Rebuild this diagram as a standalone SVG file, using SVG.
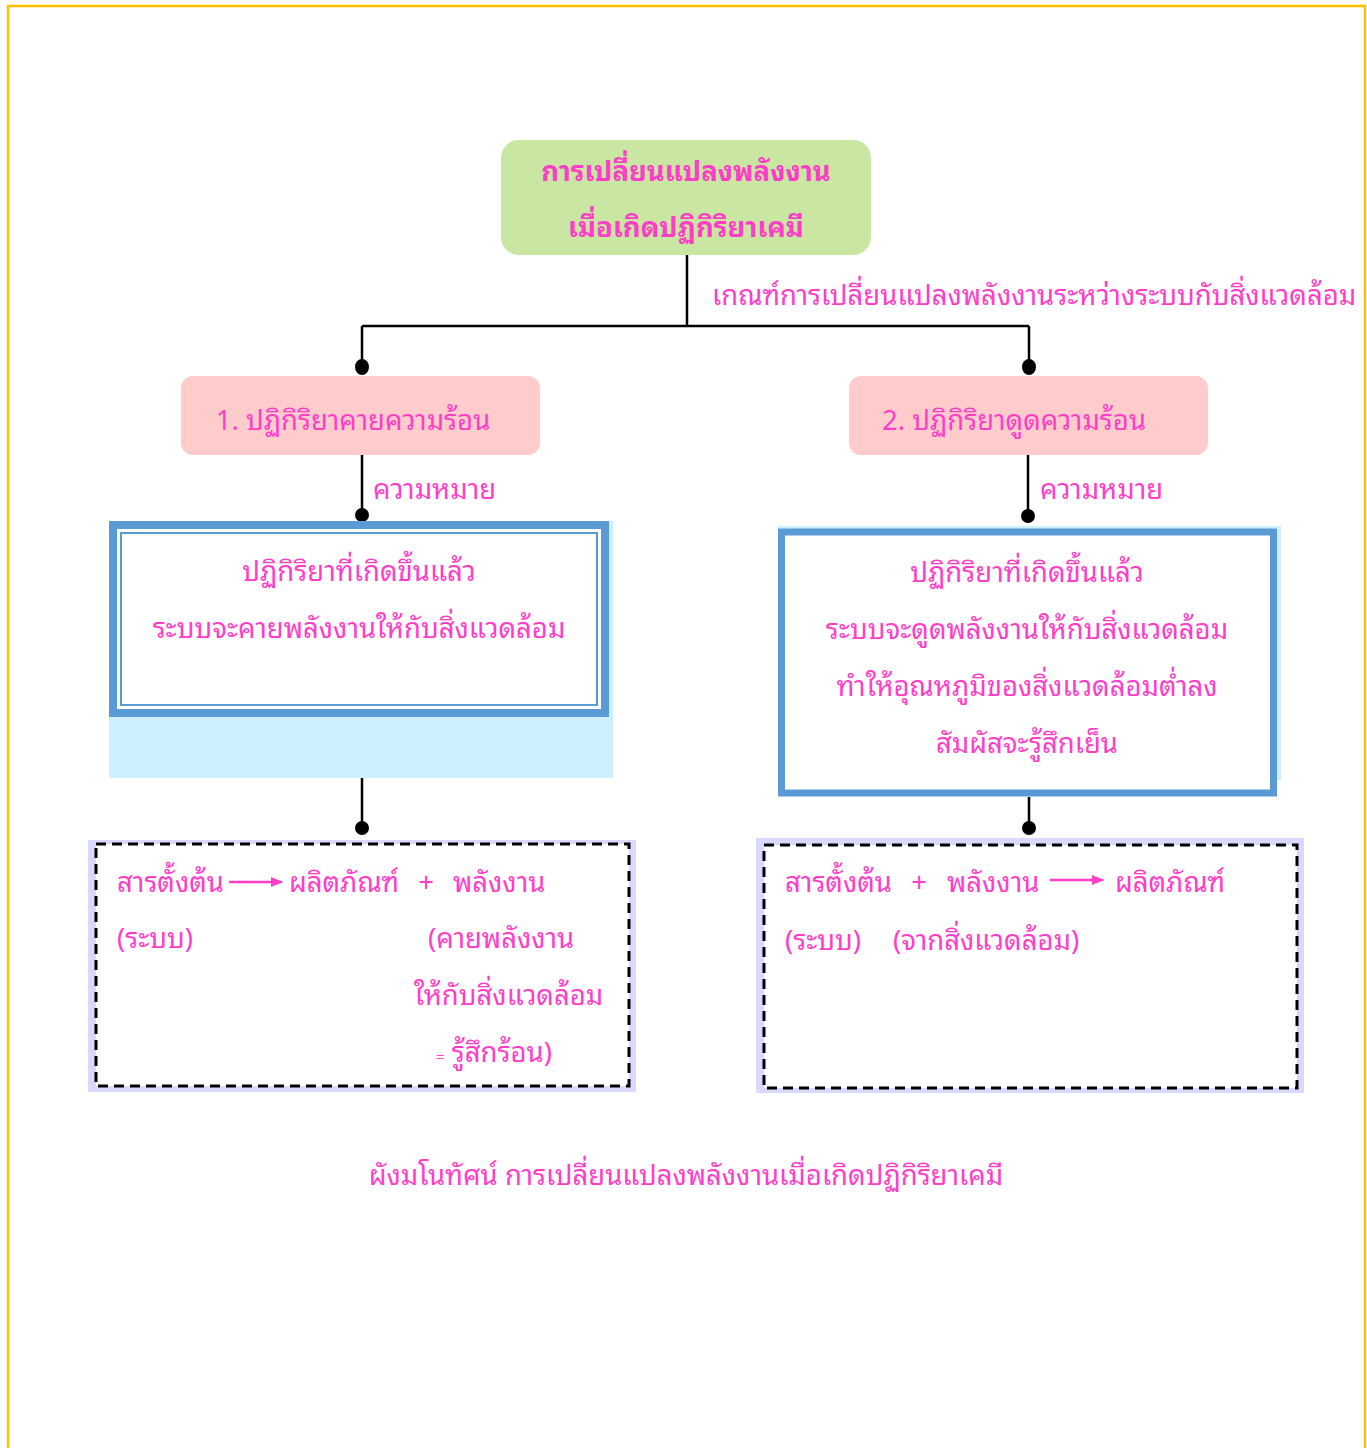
<svg xmlns="http://www.w3.org/2000/svg" width="1367" height="1448" viewBox="0 0 1367 1448">
  <defs>
    <style>
      .t { font-family: "Noto Sans Thai Looped", "Noto Sans Thai", "Noto Sans", "DejaVu Sans", sans-serif; fill: #FF3DC8; font-size: 27.5px; }
      .c { text-anchor: middle; }
      .b { font-weight: bold; font-size: 27.5px; }
      .wire { stroke: #000; stroke-width: 2.5; fill: none; }
      .dot { fill: #000; }
      .dash { fill: #fff; stroke: #000; stroke-width: 3; stroke-dasharray: 10 6; }
      .lav { fill: #D9D9FF; }
    </style>
    <marker id="ah" viewBox="0 0 10 10" refX="9" refY="5" markerWidth="5" markerHeight="5" orient="auto" markerUnits="strokeWidth">
      <path d="M0,1 L10,5 L0,9 z" fill="#FF3DC8"/>
    </marker>
  </defs>

  <!-- page frame -->
  <rect x="8" y="6" width="1357" height="1460" fill="#fff" stroke="#FFC000" stroke-width="2.5"/>

  <!-- connectors -->
  <g id="connectors">
    <path class="wire" d="M687,255 V326 M362,326 H1029 M362,326 V367 M1029,326 V367"/>
    <path class="wire" d="M362,455 V515 M1028,455 V516"/>
    <path class="wire" d="M362,778 V828 M1029,797 V828"/>
    <ellipse class="dot" cx="362" cy="367" rx="7" ry="8"/>
    <ellipse class="dot" cx="1029" cy="367" rx="7" ry="8"/>
    <ellipse class="dot" cx="362" cy="515" rx="7" ry="7"/>
    <ellipse class="dot" cx="1028" cy="516" rx="7" ry="7"/>
    <ellipse class="dot" cx="362" cy="828" rx="7" ry="7"/>
    <ellipse class="dot" cx="1029" cy="828" rx="7" ry="7"/>
    <text class="t" x="712" y="305">เกณฑ์การเปลี่ยนแปลงพลังงานระหว่างระบบกับสิ่งแวดล้อม</text>
    <text class="t" x="373" y="499">ความหมาย</text>
    <text class="t" x="1040" y="499">ความหมาย</text>
  </g>

  <!-- root -->
  <g id="root">
    <rect x="501" y="140" width="370" height="115" rx="18" fill="#C9E6A2"/>
    <text class="t c b" x="686" y="181">การเปลี่ยนแปลงพลังงาน</text>
    <text class="t c b" x="686" y="237">เมื่อเกิดปฏิกิริยาเคมี</text>
  </g>

  <!-- exothermic branch -->
  <g id="exo">
    <rect x="181" y="376" width="359" height="79" rx="12" fill="#FFCCCC"/>
    <text class="t c" x="353" y="430">1. ปฏิกิริยาคายความร้อน</text>
  </g>

  <g id="exo-meaning">
    <rect x="109" y="521" width="504" height="257" fill="#CCF0FF"/>
    <rect x="113" y="525" width="492" height="188" fill="#fff" stroke="#5B9BD5" stroke-width="8"/>
    <rect x="121" y="533" width="476" height="172" fill="none" stroke="#5B9BD5" stroke-width="2"/>
    <text class="t c" x="359" y="581">ปฏิกิริยาที่เกิดขึ้นแล้ว</text>
    <text class="t c" x="359" y="638">ระบบจะคายพลังงานให้กับสิ่งแวดล้อม</text>
  </g>

  <g id="exo-equation">
    <rect class="lav" x="88" y="840" width="548" height="252"/>
    <rect class="dash" x="96" y="844" width="533" height="242"/>
    <text class="t" x="117" y="892">สารตั้งต้น</text>
    <line x1="229" y1="882" x2="282" y2="882" stroke="#FF3DC8" stroke-width="2.5" marker-end="url(#ah)"/>
    <text class="t" x="289" y="892">ผลิตภัณฑ์</text>
    <text class="t c" x="426" y="892">+</text>
    <text class="t" x="453" y="892">พลังงาน</text>
    <text class="t" x="117" y="948">(ระบบ)</text>
    <text class="t" x="428" y="948">(คายพลังงาน</text>
    <text class="t" x="414" y="1005">ให้กับสิ่งแวดล้อม</text>
    <text class="t" x="436" y="1062"><tspan font-size="15px">=</tspan> รู้สึกร้อน)</text>
  </g>

  <!-- endothermic branch -->
  <g id="endo">
    <rect x="849" y="376" width="359" height="79" rx="12" fill="#FFCCCC"/>
    <text class="t c" x="1014" y="430">2. ปฏิกิริยาดูดความร้อน</text>
  </g>

  <g id="endo-meaning">
    <rect x="778" y="526" width="503" height="254" fill="#CCF0FF"/>
    <rect x="781.5" y="532" width="492" height="261" fill="#fff" stroke="#5B9BD5" stroke-width="7"/>
    <text class="t c" x="1027" y="582">ปฏิกิริยาที่เกิดขึ้นแล้ว</text>
    <text class="t c" x="1027" y="639">ระบบจะดูดพลังงานให้กับสิ่งแวดล้อม</text>
    <text class="t c" x="1027" y="696">ทำให้อุณหภูมิของสิ่งแวดล้อมต่ำลง</text>
    <text class="t c" x="1027" y="753">สัมผัสจะรู้สึกเย็น</text>
  </g>

  <g id="endo-equation">
    <rect class="lav" x="756" y="838" width="548" height="255"/>
    <rect class="dash" x="764" y="845" width="533" height="243"/>
    <text class="t" x="785" y="892">สารตั้งต้น</text>
    <text class="t c" x="919" y="892">+</text>
    <text class="t" x="947" y="892">พลังงาน</text>
    <line x1="1050" y1="880" x2="1103" y2="880" stroke="#FF3DC8" stroke-width="2.5" marker-end="url(#ah)"/>
    <text class="t" x="1115" y="892">ผลิตภัณฑ์</text>
    <text class="t" x="785" y="950">(ระบบ)</text>
    <text class="t" x="893" y="950">(จากสิ่งแวดล้อม)</text>
  </g>

  <!-- caption -->
  <text class="t c" x="686" y="1185">ผังมโนทัศน์ การเปลี่ยนแปลงพลังงานเมื่อเกิดปฏิกิริยาเคมี</text>
</svg>
